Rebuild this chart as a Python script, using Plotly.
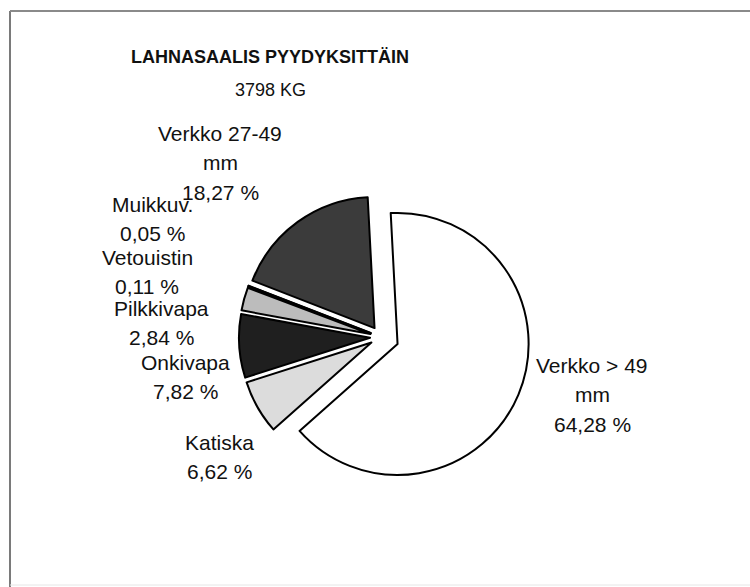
import plotly.graph_objects as go

# ---- data ----
categories = ["Verkko > 49 mm", "Katiska", "Onkivapa", "Pilkkivapa",
              "Vetouistin", "Muikkuv.", "Verkko 27-49 mm"]
label_lines = [["Verkko > 49", "mm"], ["Katiska"], ["Onkivapa"], ["Pilkkivapa"],
               ["Vetouistin"], ["Muikkuv."], ["Verkko 27-49", "mm"]]
shares = [64.28, 6.62, 7.82, 2.84, 0.11, 0.05, 18.27]
title_text = "LAHNASAALIS PYYDYKSITTÄIN"
subtitle_text = "3798 KG"

# ---- styles / layout ----
W, H = 750, 587
colors = ["#ffffff", "#dcdcdc", "#1f1f1f", "#bcbcbc", "#5a5a5a", "#8a8a8a", "#3b3b3b"]
pulls = [0.137, 0.084, 0.084, 0.084, 0.084, 0.084, 0.084]
# label block anchors (pixel x center, pixel y of first line)
label_anchor = [(592, 365), (219, 442), (185, 362), (161, 308),
                (147, 257), (152, 204), (220, 133)]
line_gap = 29.5
label_font = dict(family="Arial, Liberation Sans, sans-serif", size=21, color="#111111")
title_font = dict(family="Arial, Liberation Sans, sans-serif", size=18, color="#111111")

def px(x):
    return x / W

def py(y):
    return 1 - y / H

def fmt_pct(v):
    return f"{v:.2f}".replace(".", ",") + " %"

fig = go.Figure(go.Pie(
    labels=categories,
    values=shares,
    sort=False,
    direction="clockwise",
    rotation=-3,
    pull=pulls,
    marker=dict(colors=colors, line=dict(color="#000000", width=2)),
    textinfo="none",
    hoverinfo="label+percent",
    domain=dict(x=[px(232), px(530)], y=[py(486), py(188)]),
))

annotations = []
for lines, v, (ax, ay) in zip(label_lines, shares, label_anchor):
    all_lines = lines + [fmt_pct(v)]
    for i, t in enumerate(all_lines):
        annotations.append(dict(
            text=t, x=px(ax), y=py(ay + i * line_gap), xref="paper", yref="paper",
            xanchor="center", yanchor="middle", showarrow=False, font=label_font))

annotations.append(dict(
    text=f"<b>{title_text}</b>", x=px(270), y=py(57), xref="paper", yref="paper",
    xanchor="center", yanchor="middle", showarrow=False, font=title_font))
annotations.append(dict(
    text=subtitle_text, x=px(270), y=py(90), xref="paper", yref="paper",
    xanchor="center", yanchor="middle", showarrow=False, font=title_font))

shapes = [
    dict(type="line", xref="paper", yref="paper", x0=px(10), x1=px(10), y0=py(11), y1=py(587),
         line=dict(color="#7a7a7a", width=2)),
    dict(type="line", xref="paper", yref="paper", x0=px(10), x1=px(752), y0=py(11), y1=py(11),
         line=dict(color="#8a8a8a", width=2)),
    dict(type="line", xref="paper", yref="paper", x0=px(10), x1=px(752), y0=py(585), y1=py(585),
         line=dict(color="#e6e6e6", width=1)),
]

fig.update_layout(
    width=W, height=H,
    margin=dict(l=0, r=0, t=0, b=0),
    paper_bgcolor="#ffffff",
    plot_bgcolor="#ffffff",
    showlegend=False,
    annotations=annotations,
    shapes=shapes,
)

fig.write_html("out.html",
               config={"displayModeBar": False},
               post_script=("document.documentElement.style.overflow='hidden';"
                            "document.body.style.margin='0';"
                            "document.body.style.overflow='hidden';"))
